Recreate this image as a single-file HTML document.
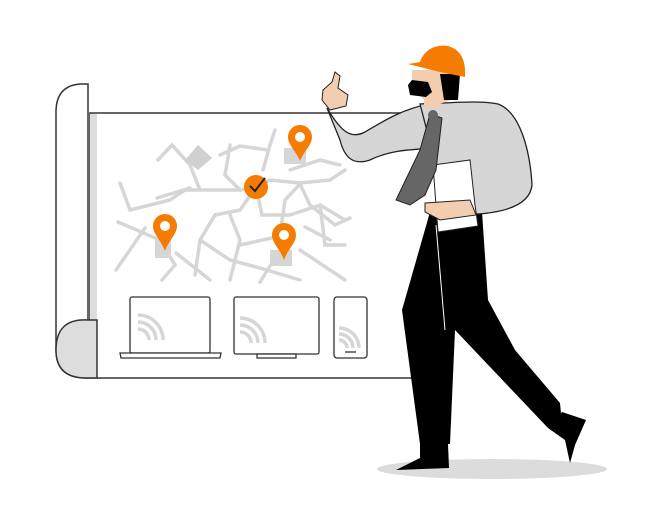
<!DOCTYPE html>
<html><head><meta charset="utf-8"><style>html,body{margin:0;padding:0;background:#fff}svg{display:block}</style></head>
<body>
<svg width="645" height="520" viewBox="0 0 645 520" xmlns="http://www.w3.org/2000/svg">
<!-- shadow -->
<ellipse cx="492" cy="469" rx="115" ry="10" fill="#dcdcdc"/>
<!-- paper -->
<rect x="90" y="113" width="360" height="265" fill="#fff" stroke="#333" stroke-width="1.5"/>
<rect x="90" y="114" width="7" height="263" fill="#ddd"/>
<path d="M88 378 L88 84 L80 84 Q56 86 56 112 L56 350 Q56 378 86 378 Z" fill="#fff" stroke="#333" stroke-width="1.5"/>
<path d="M88 320 Q56 318 56 350 Q56 378 86 378 L97 378 L97 320 Z" fill="#ddd" stroke="#333" stroke-width="1.5"/>
<!-- roads -->
<g stroke="#d6d6d6" stroke-width="3.5" fill="none" stroke-linecap="round">
<polyline points="158,160 172,145 190,165 200,190"/>
<polyline points="120,183 130,210 170,200 185,190 200,190 240,190 256,187"/>
<polyline points="157,198 190,188"/>
<polyline points="118,222 160,240 175,265 162,280"/>
<polyline points="116,270 145,228"/>
<polyline points="256,187 240,210 215,215 200,240 195,275"/>
<polyline points="200,240 230,260 260,268 300,280"/>
<polyline points="256,187 262,215 290,215 320,205 345,220"/>
<polyline points="256,187 270,180 300,183 330,180 345,170"/>
<polyline points="263,170 270,145 275,130"/>
<polyline points="220,155 240,146 268,150"/>
<polyline points="230,145 225,175 240,190"/>
<polyline points="290,170 320,160 340,165"/>
<polyline points="300,184 310,205 335,225 350,218"/>
<polyline points="300,184 285,200 280,235"/>
<polyline points="320,205 325,245 345,245"/>
<polyline points="300,250 330,270 345,280"/>
<polyline points="230,215 240,240 230,280"/>
<polyline points="176,253 210,280"/>
<polyline points="240,245 285,235"/>
<polyline points="275,258 260,282"/>
<polyline points="305,227 330,240"/>
</g>
<polygon points="185,160 198,145 212,158 198,170" fill="#d0d0d0"/>
<rect x="284" y="148" width="22" height="16" fill="#d6d6d6"/>
<rect x="155" y="240" width="16" height="18" fill="#d6d6d6"/>
<rect x="270" y="250" width="22" height="16" fill="#d6d6d6"/>
<!-- pins -->
<g fill="#f57c00">
<path d="M300 125 a12 12 0 0 1 12 12 c0 8 -8 14 -12 24 c-4 -10 -12 -16 -12 -24 a12 12 0 0 1 12 -12z"/>
<path d="M165 214 a12 12 0 0 1 12 12 c0 8 -8 14 -12 25 c-4 -11 -12 -17 -12 -25 a12 12 0 0 1 12 -12z"/>
<path d="M284 223 a12 12 0 0 1 12 12 c0 8 -8 14 -12 25 c-4 -11 -12 -17 -12 -25 a12 12 0 0 1 12 -12z"/>
<circle cx="256" cy="187" r="12"/>
</g>
<g fill="#fff"><circle cx="300" cy="137" r="5"/><circle cx="165" cy="226" r="5"/><circle cx="284" cy="235" r="5"/></g>
<polyline points="250,186 255,191 265,178" stroke="#222" stroke-width="2" fill="none"/>
<!-- devices -->
<g stroke="#333" stroke-width="1.3" fill="#fff">
<rect x="130" y="297" width="80" height="56" rx="2"/>
<path d="M120 353 L221 353 L220 358 L121 358 Z"/>
<rect x="234" y="297" width="85" height="57" rx="2"/>
<rect x="257" y="354" width="39" height="4"/>
<rect x="334" y="297" width="33" height="61" rx="3"/>
</g>
<line x1="345" y1="352" x2="356" y2="352" stroke="#333" stroke-width="1.3"/>
<g stroke="#d6d6d6" stroke-width="3.5" fill="none">
<path d="M138 315 a25 25 0 0 1 25 25"/><path d="M138 322 a18 18 0 0 1 18 18"/><path d="M138 329 a11 11 0 0 1 11 11"/>
<path d="M240 318 a25 25 0 0 1 25 25"/><path d="M240 325 a18 18 0 0 1 18 18"/><path d="M240 332 a11 11 0 0 1 11 11"/>
<path d="M339 328 a20 20 0 0 1 20 20"/><path d="M339 334 a14 14 0 0 1 14 14"/><path d="M339 340 a8 8 0 0 1 8 8"/>
</g>
<!-- person: pants -->
<path d="M430 212 L482 212 L488 300 L515 350 L560 403 L562 424 L548 428 L455 330 L450 444 L420 444 L402 310 Z" fill="#000"/>
<line x1="436" y1="225" x2="445" y2="330" stroke="#fff" stroke-width="1"/>
<!-- shoes -->
<path d="M420 444 L448 444 L449 468 L396 470 L420 458 Z" fill="#000"/>
<path d="M548 428 L562 412 L586 420 L575 445 L570 463 L565 440 Z" fill="#000"/>
<!-- shirt arm -->
<path d="M327 108 C 340 130 350 140 365 132 C 385 120 405 108 430 104 L432 148 C 410 150 390 150 370 160 C 355 165 345 160 340 140 Z" fill="#d6d6d6" stroke="#222" stroke-width="1.3"/>
<!-- torso -->
<path d="M420 104 C 450 103 480 100 498 104 C 520 112 530 150 532 185 C 530 205 505 212 478 214 L440 212 L432 150 Z" fill="#d6d6d6" stroke="#222" stroke-width="1.3"/>
<!-- papers -->
<path d="M433 165 L470 160 L475 205 L478 226 L438 232 Z" fill="#fff" stroke="#222" stroke-width="1"/>
<!-- hand -->
<path d="M425 203 L470 200 L476 215 L440 220 L425 212 Z" fill="#f2cdb0" stroke="#222" stroke-width="1"/>
<!-- tie -->
<path d="M430 114 L442 118 L436 170 L425 195 L410 205 L396 200 L420 150 Z" fill="#666" stroke="#222" stroke-width="1"/>
<circle cx="433" cy="115" r="5" fill="#666"/>
<!-- raised hand -->
<path d="M323 90 L332 82 L335 72 L340 76 L338 88 L348 95 L346 106 L330 110 L322 100 Z" fill="#f2cdb0" stroke="#222" stroke-width="1"/>
<!-- neck/head -->
<rect x="424" y="92" width="16" height="16" fill="#f2cdb0"/>
<path d="M412 70 L452 70 L456 98 L440 104 L425 100 L412 90 Z" fill="#f2cdb0"/>
<path d="M440 74 L460 74 L458 100 L444 100 Z" fill="#000"/>
<path d="M412 80 L428 82 L432 92 L426 97 L410 95 L408 85 Z" fill="#000"/>
<!-- hat -->
<path d="M408 64 L420 62 C 424 50 435 44 448 46 C 462 50 466 62 465 77 L440 72 L424 68 Z" fill="#f57c00"/>
</svg>
</body></html>
